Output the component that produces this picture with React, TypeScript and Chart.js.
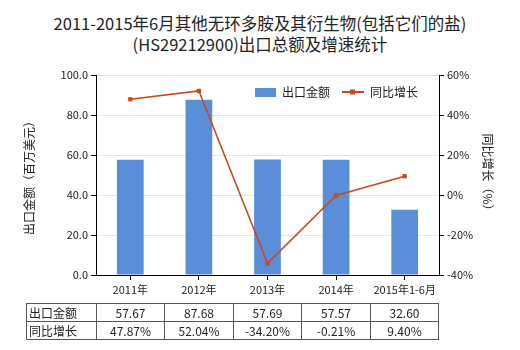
import React, { useEffect, useRef } from "react";
import { Chart, registerables } from "chart.js";

Chart.register(...registerables);

const categories = ["2011年", "2012年", "2013年", "2014年", "2015年1-6月"];
const exportValues = [57.67, 87.68, 57.69, 57.57, 32.6];
const growthValues = [47.87, 52.04, -34.2, -0.21, 9.4];
const exportLabels = ["57.67", "87.68", "57.69", "57.57", "32.60"];
const growthLabels = ["47.87%", "52.04%", "-34.20%", "-0.21%", "9.40%"];

const BAR_COLOR = "#5b8ed8";
const LINE_COLOR = "#c9481a";
const FONT = "'Noto Sans CJK SC', 'Noto Sans', sans-serif";

const legendPlugin = {
  id: "customLegend",
  afterDraw(chart: any) {
    const ctx = chart.ctx;
    ctx.save();
    ctx.font = `12px ${FONT}`;
    ctx.textBaseline = "middle";
    const y = 92;
    ctx.fillStyle = BAR_COLOR;
    ctx.fillRect(255, 88, 21, 9);
    ctx.fillStyle = "#222";
    ctx.fillText(chart.data.datasets[0].label, 282, y);
    ctx.strokeStyle = LINE_COLOR;
    ctx.lineWidth = 2;
    ctx.beginPath();
    ctx.moveTo(342, y);
    ctx.lineTo(364, y);
    ctx.stroke();
    ctx.fillStyle = LINE_COLOR;
    ctx.fillRect(350, y - 2.5, 5, 5);
    ctx.fillStyle = "#222";
    ctx.fillText(chart.data.datasets[1].label, 370, y);
    ctx.restore();
  },
};

export default function App() {
  const ref = useRef<HTMLCanvasElement>(null);
  useEffect(() => {
    if (!ref.current) return;
    const chart = new Chart(ref.current, {
      type: "bar",
      data: {
        labels: categories,
        datasets: [
          {
            type: "bar",
            label: "出口金额",
            data: exportValues,
            backgroundColor: BAR_COLOR,
            yAxisID: "y",
            categoryPercentage: 1,
            barPercentage: 0.39,
            order: 2,
          },
          {
            type: "line",
            label: "同比增长",
            data: growthValues,
            borderColor: LINE_COLOR,
            backgroundColor: LINE_COLOR,
            borderWidth: 1.5,
            pointStyle: "rect",
            pointRadius: 3,
            pointBorderWidth: 0,
            yAxisID: "y1",
            tension: 0,
            order: 1,
          } as any,
        ],
      },
      options: {
        responsive: false,
        animation: false,
        layout: { padding: { top: 75, left: 0, right: 0, bottom: 0 } },
        plugins: {
          legend: { display: false },
          tooltip: { enabled: false },
          title: { display: false },
        },
        scales: {
          x: {
            grid: {
              offset: false,
              drawOnChartArea: false,
              drawTicks: true,
              tickLength: 5,
              color: "#000",
            },
            border: { color: "#000", width: 1 },
            ticks: { color: "#222", font: { size: 11, family: FONT }, padding: 3 },
            afterFit: (s: any) => {
              s.height = 75;
            },
          },
          y: {
            position: "left",
            min: 0,
            max: 100,
            ticks: {
              stepSize: 20,
              color: "#222",
              font: { size: 11, family: FONT },
              padding: 3,
              callback: (v: any) => Number(v).toFixed(1),
            },
            grid: { color: "#e3e6e8", tickColor: "#000", tickLength: 5 },
            border: { color: "#000", width: 1 },
            title: {
              display: true,
              text: "出口金额（百万美元）",
              color: "#222",
              font: { size: 12, family: FONT },
              padding: { top: 22, bottom: 0 },
            },
            afterFit: (s: any) => {
              s.width = 96;
            },
          },
          y1: {
            position: "right",
            min: -40,
            max: 60,
            ticks: {
              stepSize: 20,
              color: "#222",
              font: { size: 11, family: FONT },
              padding: 3,
              callback: (v: any) => `${v}%`,
            },
            grid: { drawOnChartArea: false, tickColor: "#000", tickLength: 5 },
            border: { color: "#000", width: 1 },
            title: {
              display: true,
              text: "同比增长（%）",
              color: "#222",
              font: { size: 12, family: FONT },
              padding: { top: 25, bottom: 0 },
            },
            afterFit: (s: any) => {
              s.width = 81;
            },
          },
        },
      },
      plugins: [legendPlugin],
    });
    return () => chart.destroy();
  }, []);

  const cell: React.CSSProperties = {
    border: "1px solid #555",
    padding: 0,
    height: 17,
    textAlign: "center",
    fontSize: 12,
    color: "#222",
  };
  const colW = [70, 68, 69, 68, 69, 68];

  return (
    <div
      style={{
        position: "fixed",
        left: 0,
        top: 0,
        width: 520,
        height: 350,
        background: "#fff",
        fontFamily: FONT,
      }}
    >
      <div
        style={{
          position: "absolute",
          left: 0,
          top: 13,
          width: 520,
          textAlign: "center",
          fontSize: 16.5,
          lineHeight: "21px",
          color: "#222",
        }}
      >
        2011-2015年6月其他无环多胺及其衍生物(包括它们的盐)
        <br />
        (HS29212900)出口总额及增速统计
      </div>
      <canvas ref={ref} width={520} height={350} style={{ position: "absolute", left: 0, top: 0 }} />
      <table
        style={{
          position: "absolute",
          left: 26,
          top: 303,
          borderCollapse: "collapse",
          tableLayout: "fixed",
          width: 412,
          fontFamily: FONT,
        }}
      >
        <colgroup>
          {colW.map((w, i) => (
            <col key={i} style={{ width: w }} />
          ))}
        </colgroup>
        <tbody>
          <tr>
            <td style={{ ...cell, textAlign: "left", paddingLeft: 2 }}>出口金额</td>
            {exportLabels.map((v, i) => (
              <td key={i} style={cell}>{v}</td>
            ))}
          </tr>
          <tr>
            <td style={{ ...cell, textAlign: "left", paddingLeft: 2 }}>同比增长</td>
            {growthLabels.map((v, i) => (
              <td key={i} style={cell}>{v}</td>
            ))}
          </tr>
        </tbody>
      </table>
    </div>
  );
}
